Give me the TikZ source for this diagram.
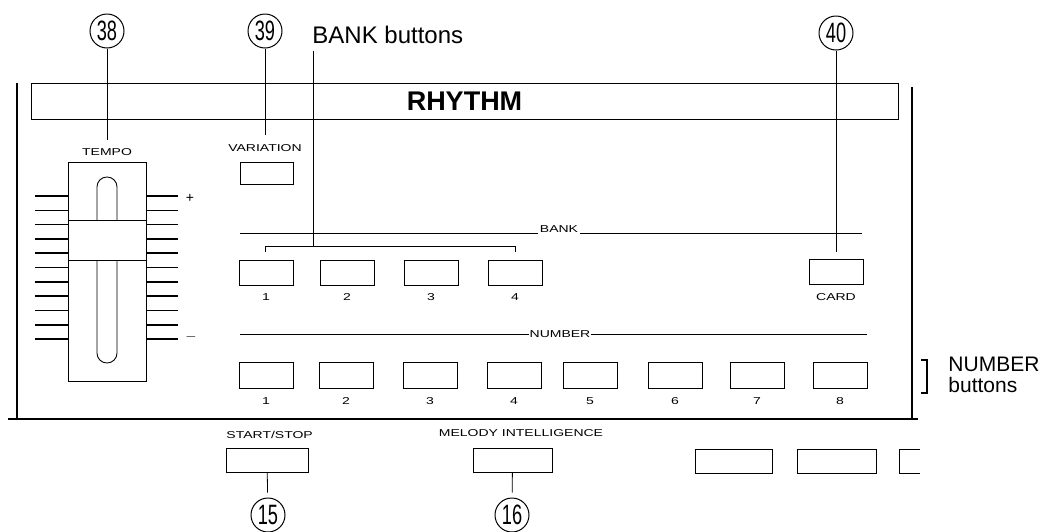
\documentclass[tikz,border=0pt]{standalone}
\usepackage{fontspec}
\setmainfont{Liberation Sans}
\usepackage{graphicx}
\usetikzlibrary{positioning}
\newcommand{\widetxt}[1]{\scalebox{1.4}[1]{#1}}
\newcommand{\tallnum}[1]{\scalebox{0.65}[1]{#1}}

\begin{document}
\begin{tikzpicture}[
    x=1pt, y=-1pt,
    line width=0.9pt,
    panelbtn/.style={
        draw,
        minimum width=54pt,
        minimum height=25pt,
        inner sep=0pt
    },
    widebtn/.style={draw, minimum width=80pt, minimum height=24pt, inner sep=0pt},
    callout/.style={
        draw,
        circle,
        minimum size=34pt,
        inner sep=0pt,
        line width=1pt,
        font=\fontsize{28}{28}\selectfont
    },
    smalllbl/.style={inner sep=0pt, font=\fontsize{10}{12}\selectfont},
    biglbl/.style={inner sep=0pt, font=\fontsize{22}{21}\selectfont, align=left},
    leader/.style={line width=0.8pt},
    tickmark/.style={line width=1.6pt}
]
\useasboundingbox (0,0) rectangle (1053,531);

% panel frame and title bar
\draw[line width=1.1pt] (17,83) -- (17,419);
\draw[line width=1.1pt] (912,87) -- (912,419);
\draw[line width=1.1pt] (8,419) -- (918,419);
\node[draw, minimum width=867pt, minimum height=36pt, inner sep=0pt,
      font=\fontsize{27}{27}\selectfont\bfseries] (rhythm) at (464.5,101) {RHYTHM};

% callout numbers
\node[callout] (c38) at (107,31) {\tallnum{38}};
\node[callout] (c39) at (265,31) {\tallnum{39}};
\node[callout] (c40) at (836,33) {\tallnum{40}};
\node[callout] (c15) at (268,515) {\tallnum{15}};
\node[callout] (c16) at (512,515) {\tallnum{16}};

% tempo slider
\node[smalllbl] (tempo) at (107,152) {\widetxt{TEMPO}};
\draw (68,162) rectangle (146,381);
\draw (68,220) -- (146,220);
\draw (68,260) -- (146,260);
\draw[rounded corners=9.9pt] (97,220) -- (97,177) -- (117,177) -- (117,220);
\draw[rounded corners=9.9pt] (97,260) -- (97,363) -- (117,363) -- (117,260);
\foreach \i in {0,...,10} {
    \draw[tickmark] (35,{196+14.3*\i}) -- (68,{196+14.3*\i});
    \draw[tickmark] (146,{196+14.3*\i}) -- (178,{196+14.3*\i});
}
\node[inner sep=0pt, font=\fontsize{14}{14}\selectfont] (plus) at (190,198) {+};
\node[inner sep=0pt, font=\fontsize{14}{14}\selectfont] (minus) at (191,337) {$-$};

% variation
\node[smalllbl] (varlbl) at (265,148) {\widetxt{VARIATION}};
\node[panelbtn, minimum width=53pt, minimum height=22pt] (var) at (266.5,173) {};

% bank row
\node[smalllbl, anchor=base] (banklbl) at (559,232) {\widetxt{BANK}};
\draw (240,233) -- (538,233);
\draw (580,233) -- (862,233);
\foreach \n/\cx in {1/266,2/347,3/431,4/515} {
    \node[panelbtn, label={[smalllbl, label distance=8pt]below:\widetxt{\n}}] (bank\n) at (\cx,272.5) {};
}
\node[panelbtn, label={[smalllbl, label distance=8pt]below:\widetxt{CARD}}] (card) at (836,272) {};
\coordinate (bkjoin) at (313,246);
\draw (265,252) -- (265,246) -- (515,246) -- (515,252);

% number row
\node[smalllbl] (numlbl) at (560,334) {\widetxt{NUMBER}};
\draw (240,334) -- (numlbl.west);
\draw (numlbl.east) -- (867,334);
\foreach \n/\cx in {1/266,2/346,3/430,4/514,5/590,6/675,7/757,8/840} {
    \node[panelbtn, minimum height=26pt, label={[smalllbl, label distance=9pt]below:\widetxt{\n}}] (num\n) at (\cx,375) {};
}

% text callouts
\node[biglbl, anchor=base west, font=\fontsize{24}{24}\selectfont] (bbtxt) at (312,43) {BANK buttons};
\node[biglbl, anchor=north west, font=\fontsize{21}{21}\selectfont] (nbtxt) at (948,357) {NUMBER\\buttons};
\draw[line width=1.6pt] (921,360) -- (927,360) -- (927,393) -- (921,393);

% lower buttons
\node[smalllbl, anchor=west] (sslbl) at (226,435) {\widetxt{START/STOP}};
\node[widebtn, minimum width=82pt] (ss) at (267,460) {};
\node[smalllbl] (milbl) at (521,433) {\widetxt{MELODY INTELLIGENCE}};
\node[widebtn, minimum width=79pt] (mi) at (512.5,460.5) {};
\node[widebtn, minimum width=77pt] (xa) at (733.5,461) {};
\node[widebtn, minimum width=79pt] (xb) at (836.5,461) {};
\draw (920,449) -- (899,449) -- (899,473) -- (920,473);

% leader lines
\draw[leader, shorten >=8pt] (c38) -- (tempo.north);
\draw[leader, shorten >=9pt] (c39) -- (varlbl.north);
\draw[leader, shorten >=7pt] (c40) -- (card);
\draw[leader, shorten <=7pt] (bkjoin |- bbtxt.south) -- (bkjoin);
\draw[leader, shorten >=5pt] (ss) -- (c15);
\draw[leader, shorten >=5pt] (mi) -- (c16);
\end{tikzpicture}
\end{document}
